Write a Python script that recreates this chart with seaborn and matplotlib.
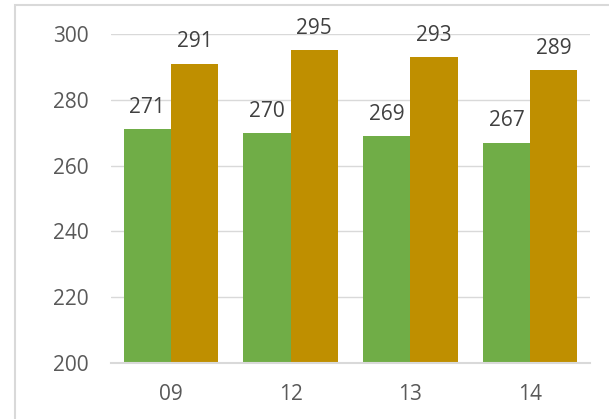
import matplotlib
matplotlib.use("Agg")
import matplotlib.pyplot as plt
import seaborn as sns
import pandas as pd
from matplotlib.patches import Rectangle

# chart data
years = ["09", "12", "13", "14"]
series_a = [271, 270, 269, 267]
series_b = [291, 295, 293, 289]

df = pd.DataFrame({
    "year": years * 2,
    "value": series_a + series_b,
    "series": ["A"] * 4 + ["B"] * 4,
})

sns.set_theme(style="white")
plt.rcParams["font.family"] = ["Open Sans", "DejaVu Sans"]

fig = plt.figure(figsize=(6.09, 4.19), dpi=100)
ax = fig.add_axes([111 / 609, 1 - 363 / 419, (590 - 111) / 609, (363 - 34) / 419])

sns.barplot(data=df, x="year", y="value", hue="series", hue_order=["A", "B"],
            palette=["#70AD47", "#BF8F00"], width=0.79, gap=0, saturation=1,
            edgecolor="none", legend=False, ax=ax)

ax.set_ylim(200, 300)
ax.set_yticks(range(200, 301, 20))
ax.grid(axis="y", color="#D9D9D9", linewidth=1)
ax.set_axisbelow(True)
for s in ["top", "right", "left"]:
    ax.spines[s].set_visible(False)
ax.spines["bottom"].set_color("#D9D9D9")
ax.spines["bottom"].set_linewidth(1.5)
ax.set_xlabel("")
ax.set_ylabel("")
ax.tick_params(axis="y", length=0, pad=16, labelsize=15, labelcolor="#595959")
ax.tick_params(axis="x", length=0, pad=15, labelsize=15, labelcolor="#595959")

for cont in ax.containers:
    for bar in cont:
        h = bar.get_height()
        ax.annotate(f"{h:.0f}", (bar.get_x() + bar.get_width() / 2, h),
                    xytext=(0, 8), textcoords="offset points",
                    ha="center", va="bottom", fontsize=15, color="#404040",
                    annotation_clip=False)

# outer chart border
fig.patches.append(Rectangle((15 / 609, -0.1), 1.2, 1 - 5 / 419 + 0.1,
                             transform=fig.transFigure, fill=False,
                             edgecolor="#D9D9D9", linewidth=1.5))

fig.savefig("out.png", dpi=100)
